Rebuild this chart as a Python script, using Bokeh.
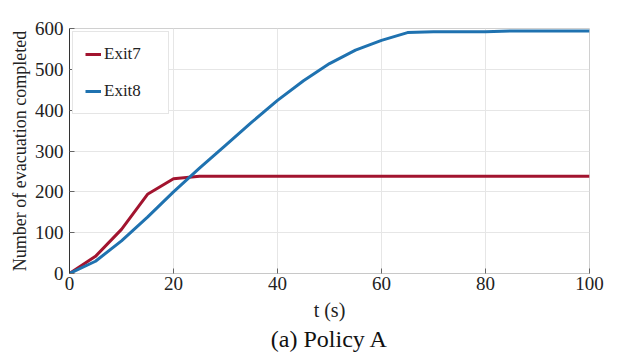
from bokeh.plotting import figure
from bokeh.models import Range1d, Legend, LegendItem, FixedTicker, Title
from bokeh.embed import file_html
from bokeh.resources import INLINE

t = [0, 5, 10, 15, 20, 25, 30, 35, 40, 45, 50, 55, 60, 65, 70, 75, 80, 85, 90, 95, 100]
exit7 = [0, 42, 108, 194, 232, 238, 238, 238, 238, 238, 238, 238, 238, 238, 238, 238, 238, 238, 238, 238, 238]
exit8 = [0, 30, 80, 138, 200, 258, 314, 370, 424, 472, 514, 547, 571, 590, 592, 592, 592, 594, 594, 594, 594]
xticks = [0, 20, 40, 60, 80, 100]
yticks = [0, 100, 200, 300, 400, 500, 600]

FONT = "serif"

p = figure(width=611, height=352, output_backend="svg", toolbar_location=None,
           x_range=Range1d(0, 100), y_range=Range1d(0, 600),
           min_border_left=69, min_border_right=22, min_border_top=28, min_border_bottom=79)

r7 = p.line(t, exit7, line_color="#A2142F", line_width=3)
r8 = p.line(t, exit8, line_color="#1f72b0", line_width=3)

p.xaxis.ticker = FixedTicker(ticks=xticks)
p.yaxis.ticker = FixedTicker(ticks=yticks)
for ax in (p.xaxis, p.yaxis):
    ax.major_label_text_font = FONT
    ax.major_label_text_font_size = "19px"
    ax.major_label_text_color = "#222222"
    ax.major_tick_in = 5
    ax.major_tick_out = 0
    ax.minor_tick_line_color = None
    ax.major_tick_line_color = "#666666"
    ax.axis_label_text_font = FONT
    ax.axis_label_text_font_style = "normal"
    ax.axis_label_text_font_size = "20px"
    ax.axis_label_text_color = "#222222"
p.xaxis.axis_line_color = "#c8c8c8"
p.yaxis.axis_line_color = "#333333"
p.xaxis.major_label_standoff = 3
p.yaxis.major_label_standoff = 6

p.yaxis.axis_label = "Number of evacuation completed"
p.yaxis.axis_label_text_font_size = "18px"
p.yaxis.axis_label_standoff = 2
p.xaxis.axis_label = "t (s)"
p.xaxis.axis_label_standoff = 6

p.xgrid.grid_line_color = "#e6e6e6"
p.ygrid.grid_line_color = "#e6e6e6"
p.outline_line_color = "#d0d0d0"
p.background_fill_color = "white"
p.border_fill_color = "white"

cap = Title(text="(a) Policy A", align="center", text_font=FONT,
            text_font_size="24px", text_font_style="normal", text_color="#111111",
            standoff=0)
p.add_layout(cap, "below")

legend = Legend(items=[LegendItem(label="Exit7", renderers=[r7]),
                       LegendItem(label="Exit8", renderers=[r8])],
                location="top_left")
legend.label_text_font = FONT
legend.label_text_font_size = "17px"
legend.label_text_color = "#222222"
legend.glyph_width = 16
legend.glyph_height = 16
legend.label_height = 16
legend.label_width = 52
legend.spacing = 17
legend.padding = 12
legend.margin = 3
legend.label_standoff = 3
legend.border_line_color = "#cccccc"
legend.border_line_width = 1
legend.background_fill_alpha = 1.0
p.add_layout(legend)

open("out.html", "w").write(file_html(p, INLINE))
